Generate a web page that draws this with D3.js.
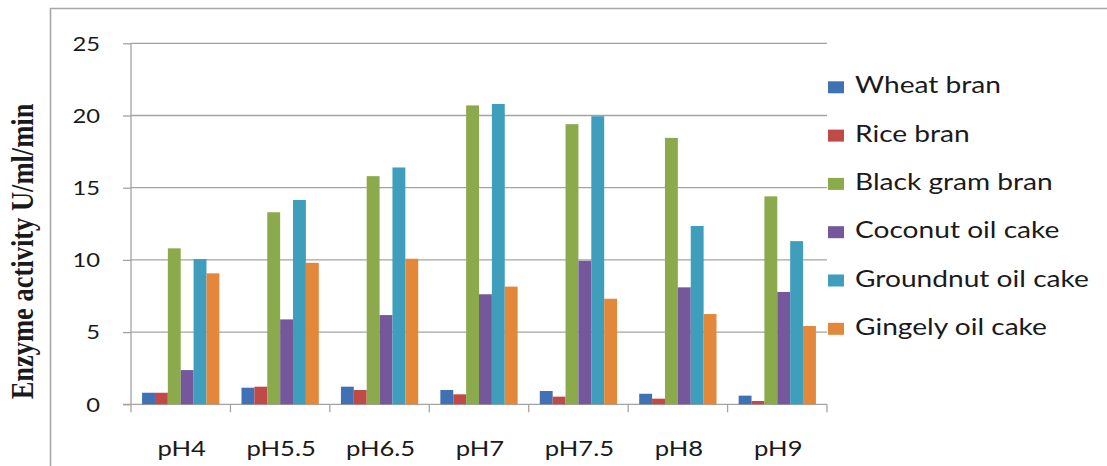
<!DOCTYPE html>
<html>
<head>
<meta charset="utf-8">
<script src="https://cdn.jsdelivr.net/npm/d3@7"></script>
<style>
  html, body { margin: 0; padding: 0; background: #fff; }
  svg { display: block; }
  .lbl { font-family: Lato, "Open Sans", sans-serif; fill: #1a1a1a; }
</style>
</head>
<body>
<svg id="chart" width="1107" height="466"></svg>
<script>
// pH conditions on the x axis
const categories = ["pH4", "pH5.5", "pH6.5", "pH7", "pH7.5", "pH8", "pH9"];

// Substrates (one bar series each)
const seriesNames = ["Wheat bran", "Rice bran", "Black gram bran", "Coconut oil cake", "Groundnut oil cake", "Gingely oil cake"];

// Enzyme activity (U/ml/min) per substrate, in category order
const wheatBran        = [0.8, 1.15, 1.22, 0.99, 0.92, 0.73, 0.6];
const riceBran         = [0.8, 1.22, 0.99, 0.69, 0.53, 0.39, 0.23];
const blackGramBran    = [10.8, 13.3, 15.8, 20.7, 19.4, 18.45, 14.4];
const coconutOilCake   = [2.37, 5.88, 6.18, 7.62, 9.94, 8.1, 7.78];
const groundnutOilCake = [10.06, 14.15, 16.4, 20.8, 19.95, 12.35, 11.3];
const gingelyOilCake   = [9.07, 9.8, 10.08, 8.15, 7.31, 6.25, 5.42];

const yTicks = [0, 5, 10, 15, 20, 25];
const colors = ["#3F71B4", "#BF4A47", "#8BAA4B", "#75589B", "#3E9EBC", "#E3873B"];

const seriesValues = [wheatBran, riceBran, blackGramBran, coconutOilCake, groundnutOilCake, gingelyOilCake];

// Labels are drawn slightly wide (horizontal stretch)
const textStretch = 1.25;

const svg = d3.select("#chart");
const plot = { left: 131, right: 827, top: 43.3, bottom: 404.3 };
const lineColor = "#a3a3a3";

// Outer chart frame (runs past the right and bottom edges)
svg.append("path")
  .attr("d", "M50.5,470 L50.5,8.5 L1110,8.5")
  .attr("fill", "none")
  .attr("stroke", "#a6a6a6")
  .attr("stroke-width", 1.6);

const x0 = d3.scaleBand().domain(categories).range([plot.left, plot.right]);
const x1 = d3.scaleBand().domain(seriesNames).range([0, x0.step()]).paddingOuter(0.86);
const y = d3.scaleLinear().domain([0, 25]).range([plot.bottom, plot.top]);

// Horizontal gridlines
svg.append("g")
  .selectAll("line")
  .data(yTicks.filter(d => d > 0))
  .join("line")
  .attr("x1", plot.left).attr("x2", plot.right)
  .attr("y1", d => y(d)).attr("y2", d => y(d))
  .attr("stroke", lineColor).attr("stroke-width", 1.3);

// Y axis
const yAxis = d3.axisLeft(y).tickValues(yTicks).tickSize(8).tickFormat(d3.format("d"));
const gy = svg.append("g").attr("transform", `translate(${plot.left},0)`).call(yAxis);
gy.select(".domain").attr("stroke", lineColor).attr("stroke-width", 1.3).attr("d", `M0,${plot.top}V${plot.bottom + 0.5}`);
gy.selectAll(".tick line").attr("stroke", lineColor).attr("stroke-width", 1.3);
gy.selectAll(".tick text")
  .attr("class", "lbl")
  .attr("x", 0)
  .attr("dy", "0.36em")
  .attr("transform", `translate(-31,0) scale(${textStretch},1)`)
  .style("font-size", "19px")
  .attr("fill", "#1a1a1a");

// X axis baseline with ticks at category boundaries
const gx = svg.append("g");
gx.append("line")
  .attr("x1", plot.left - 8).attr("x2", plot.right)
  .attr("y1", y(0)).attr("y2", y(0))
  .attr("stroke", lineColor).attr("stroke-width", 1.3);
const boundaries = categories.map(c => x0(c)).concat([x0(categories[categories.length - 1]) + x0.step()]);
gx.selectAll("line.bt")
  .data(boundaries)
  .join("line")
  .attr("class", "bt")
  .attr("x1", d => d).attr("x2", d => d)
  .attr("y1", y(0)).attr("y2", y(0) + 8)
  .attr("stroke", lineColor).attr("stroke-width", 1.3);
gx.selectAll("text")
  .data(categories)
  .join("text")
  .attr("class", "lbl")
  .attr("transform", d => `translate(${x0(d) + x0.bandwidth() / 2 + 1},455.5) scale(${textStretch},1)`)
  .attr("text-anchor", "middle")
  .style("font-size", "20.5px")
  .text(d => d);

// Bars
const groups = svg.append("g")
  .selectAll("g")
  .data(categories)
  .join("g")
  .attr("transform", d => `translate(${x0(d)},0)`);

groups.selectAll("rect")
  .data((c, i) => seriesNames.map((s, k) => ({ s, k, v: seriesValues[k][i] })))
  .join("rect")
  .attr("x", d => x1(d.s))
  .attr("width", x1.bandwidth())
  .attr("y", d => y(d.v))
  .attr("height", d => y(0) - y(d.v))
  .attr("fill", d => colors[d.k]);

// Y axis title
svg.append("text")
  .attr("transform", `translate(33,251.5) scale(1.18,1) rotate(-90)`)
  .attr("text-anchor", "middle")
  .style("font-family", "'Liberation Serif', 'Times New Roman', serif")
  .style("font-weight", "bold")
  .style("font-size", "26.5px")
  .attr("fill", "#1a1a1a")
  .text("Enzyme activity U/ml/min");

// Legend
const legend = svg.append("g").attr("transform", "translate(828,93.3)");
const items = legend.selectAll("g")
  .data(seriesNames)
  .join("g")
  .attr("transform", (d, i) => `translate(0,${i * 48.3})`);
items.append("rect")
  .attr("x", 0).attr("y", -12)
  .attr("width", 16).attr("height", 12)
  .attr("fill", (d, i) => colors[i]);
items.append("text")
  .attr("class", "lbl")
  .attr("transform", `translate(27,0) scale(${textStretch},1)`)
  .style("font-size", "22.5px")
  .text(d => d);
</script>
</body>
</html>
